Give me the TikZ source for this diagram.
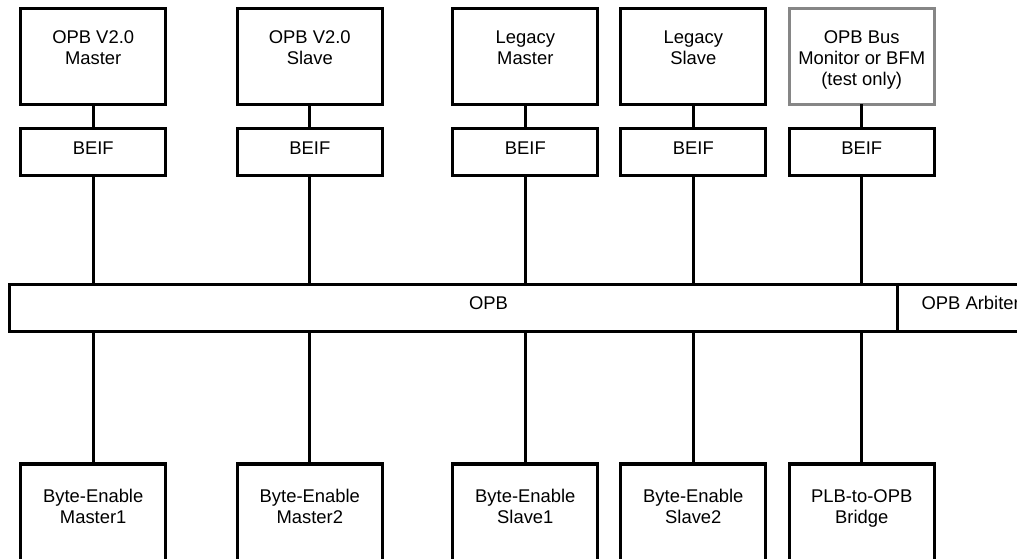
\documentclass[tikz,border=0pt]{standalone}
\usepackage{fontspec}
\setmainfont{Liberation Sans}
\begin{document}
\begin{tikzpicture}[x=1pt,y=-1pt,
  line width=3.2pt,
  box/.style={draw=black, rectangle, inner sep=0pt, outer sep=0pt, minimum width=145pt, anchor=north},
  topbox/.style={box, minimum height=96pt},
  greybox/.style={topbox, draw=gray!95},
  beifbox/.style={box, minimum height=47.4pt},
  botbox/.style={box, minimum height=130pt},
  txt/.style={font=\fontsize{18.4}{21}\selectfont, align=center, inner sep=0pt, anchor=north},
  btxt/.style={font=\fontsize{18.4}{21}\selectfont, inner sep=0pt, anchor=base},
  conn/.style={draw=black, line width=3.2pt}]
\useasboundingbox (0,0) rectangle (1017,559);
\clip (0,0) rectangle (1017,559);
\fill[white] (0,0) rectangle (1017,559);

% top boxes
\node[topbox] (t1) at (93.2,8.3) {};
\node[topbox] (t2) at (309.8,8.3) {};
\node[topbox] (t3) at (525.3,8.3) {};
\node[topbox] (t4) at (693.3,8.3) {};
\node[greybox] (t5) at (861.7,8.3) {};
\node[txt] (t1l) at (93.2,29) {OPB V2.0\\Master};
\node[txt] (t2l) at (309.8,29) {OPB V2.0\\Slave};
\node[txt] (t3l) at (525.3,29) {Legacy\\Master};
\node[txt] (t4l) at (693.3,29) {Legacy\\Slave};
\node[txt] (t5l) at (861.7,29) {OPB Bus\\Monitor or BFM\\(test only)};

% BEIF boxes
\node[beifbox] (b1) at (93.2,128.3) {};
\node[beifbox] (b2) at (309.8,128.3) {};
\node[beifbox] (b3) at (525.3,128.3) {};
\node[beifbox] (b4) at (693.3,128.3) {};
\node[beifbox] (b5) at (861.7,128.3) {};
\foreach \i/\x in {1/93.2,2/309.8,3/525.3,4/693.3,5/861.7}
  \node[btxt] (b\i l) at (\x,154.6) {BEIF};

% OPB bus and arbiter
\node[draw=black, rectangle, inner sep=0pt, outer sep=0pt, minimum width=888.4pt, minimum height=47.4pt, anchor=north west] (opb) at (9.3,284.3) {};
\node[draw=black, rectangle, inner sep=0pt, outer sep=0pt, minimum width=140pt, minimum height=47.4pt, anchor=north west] (arb) at (897.7,284.3) {};
\node[btxt] (opbl) at (488.5,309.3) {OPB};
\node[btxt, anchor=base west] (arbl) at (920,309.3) {OPB Arbiter};

% bottom boxes
\node[botbox] (m1) at (93.2,464) {};
\node[botbox] (m2) at (309.8,464) {};
\node[botbox] (m3) at (525.3,464) {};
\node[botbox] (m4) at (693.3,464) {};
\node[botbox] (m5) at (861.7,464) {};
\node[txt] (m1l) at (93.2,487.6) {Byte-Enable\\Master1};
\node[txt] (m2l) at (309.8,487.6) {Byte-Enable\\Master2};
\node[txt] (m3l) at (525.3,487.6) {Byte-Enable\\Slave1};
\node[txt] (m4l) at (693.3,487.6) {Byte-Enable\\Slave2};
\node[txt] (m5l) at (861.7,487.6) {PLB-to-OPB\\Bridge};

% connectors
\foreach \i in {1,...,5} {
  \draw[conn] (t\i.south) -- (b\i.north);
  \draw[conn] (b\i.south) -- (b\i.south |- opb.north);
  \draw[conn] (m\i.north |- opb.south) -- (m\i.north);
}
\end{tikzpicture}
\end{document}
